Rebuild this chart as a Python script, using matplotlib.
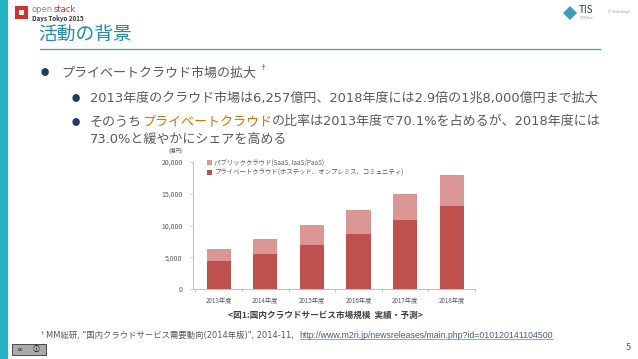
import matplotlib
matplotlib.use("Agg")
import matplotlib.pyplot as plt
from matplotlib.patches import Rectangle, Polygon, Patch

plt.rcParams['font.family'] = ['Noto Sans CJK JP', 'DejaVu Sans']
BODY_FAM = ['DejaVu Sans', 'Noto Sans CJK JP']

# ---- data ----
years = ['2013年度', '2014年度', '2015年度', '2016年度', '2017年度', '2018年度']
private_cloud = [4386, 5580, 7000, 8720, 10820, 13140]
public_cloud = [1871, 2360, 3030, 3680, 4140, 4860]
y_ticks = [0, 5000, 10000, 15000, 20000]
y_tick_labels = ['0', '5,000', '10,000', '15,000', '20,000']
legend_labels = ['パブリッククラウド(SaaS, IaaS/PaaS)',
                 'プライベートクラウド(ホステッド、オンプレミス、コミュニティ)']

W, H = 638, 359
fig = plt.figure(figsize=(W / 100, H / 100), dpi=100)
fig.patch.set_facecolor('white')
renderer = fig.canvas.get_renderer()

def ft(x, y, s, **kw):
    return fig.text(x / W, 1 - y / H, s, **kw)

def chain(x, y, segs, **kw):
    for s, c in segs:
        t = ft(x, y, s, color=c, va='center', ha='left', **kw)
        x += t.get_window_extent(renderer).width
    return x

TEXT = '#595959'
TEAL = '#22b3c3'
BUL = '#1f3b6b'

# left teal bar
fig.patches.append(Rectangle((0, 0), 8 / W, 1, transform=fig.transFigure,
                             facecolor=TEAL, edgecolor='none'))
# openstack logo
fig.patches.append(Rectangle((15 / W, 1 - 19 / H), 13 / W, 13 / H, transform=fig.transFigure,
                             facecolor='#d0322d', edgecolor='none'))
fig.patches.append(Rectangle((19 / W, 1 - 15 / H), 5 / W, 5 / H, transform=fig.transFigure,
                             facecolor='white', edgecolor='none'))
chain(32, 9, [('open', '#888888'), ('stack', '#d0322d')], fontsize=6, family=['DejaVu Sans'])
ft(32, 18, 'Days Tokyo 2015', fontsize=4.5, color='#333333', va='center', ha='left',
   fontweight='bold')

# TIS logo
fig.patches.append(Polygon([(563 / W, 1 - 13 / H), (570 / W, 1 - 6 / H), (577 / W, 1 - 13 / H),
                            (570 / W, 1 - 20 / H)], closed=True, transform=fig.transFigure,
                           facecolor='#3a9fb5', edgecolor='none'))
ft(579, 10, 'TIS', fontsize=7, color='#333333', va='center', ha='left')
ft(580, 18, 'TIS Inc.', fontsize=3, color='#888888', va='center', ha='left')
ft(608, 12, 'IT Holdings', fontsize=3, color='#999999', va='center', ha='left')

# title
ft(38, 34, '活動の背景', fontsize=13.5, color='#1f8bb3', va='center', ha='left')
fig.add_artist(plt.Line2D([40 / W, 600 / W], [1 - 49 / H, 1 - 49 / H],
                          transform=fig.transFigure, color='#2ea3bd', lw=0.9))

# bullets
FS = 9.4
R1, R2, R3, R4 = 73, 98, 122, 139
ft(41, R1, '●', fontsize=6, color=BUL, va='center', ha='left')
x_end = chain(61, R1, [('プライベートクラウド市場の拡大', TEXT)], fontsize=FS, family=BODY_FAM)
ft(x_end + 3, R1 - 5, '†', fontsize=5.5, color=TEXT, va='center', ha='left')

ft(72, R2, '●', fontsize=6, color=BUL, va='center', ha='left')
chain(90, R2, [('2013年度のクラウド市場は6,257億円、2018年度には2.9倍の1兆8,000億円まで拡大', TEXT)],
      fontsize=FS, family=BODY_FAM)
ft(72, R3, '●', fontsize=6, color=BUL, va='center', ha='left')
chain(90, R3, [('そのうち', TEXT), ('プライベートクラウド', '#e46c0a'),
               ('の比率は2013年度で70.1%を占めるが、2018年度には', TEXT)],
      fontsize=FS, family=BODY_FAM)
chain(90, R4, [('73.0%と緩やかにシェアを高める', TEXT)], fontsize=FS, family=BODY_FAM)

# ---- chart ----
left, right, bottom, top = 193, 475, 289, 162
ax = fig.add_axes([left / W, 1 - bottom / H, (right - left) / W, (bottom - top) / H])
xs = list(range(len(years)))
c_priv = '#c0504d'
c_pub = '#d99694'
ax.bar(xs, private_cloud, width=0.52, color=c_priv, edgecolor='none')
ax.bar(xs, public_cloud, bottom=private_cloud, width=0.52, color=c_pub, edgecolor='none')
ax.set_xlim(-0.55, 5.5)
ax.set_ylim(0, 20000)
ax.set_yticks(y_ticks)
ax.set_yticklabels(y_tick_labels)
ax.set_xticks(xs)
ax.set_xticklabels(years)
ax.set_xticks([i + 0.5 for i in range(-1, 6)], minor=True)
ax.tick_params(axis='x', which='major', length=0, labelsize=4.5, colors=TEXT, pad=6)
ax.tick_params(axis='x', which='minor', length=2.5, color='#bfbfbf', width=0.6)
ax.tick_params(axis='y', length=2.5, color='#bfbfbf', width=0.6, labelsize=5, labelcolor=TEXT, pad=5)
for s in ['top', 'right']:
    ax.spines[s].set_visible(False)
for s in ['left', 'bottom']:
    ax.spines[s].set_color('#bfbfbf')
    ax.spines[s].set_linewidth(0.7)
ax.patch.set_alpha(0)

handles = [Patch(facecolor=c_pub, edgecolor='none'), Patch(facecolor=c_priv, edgecolor='none')]
ax.legend(handles, legend_labels, loc='upper left', bbox_to_anchor=(0.04, 1.045), frameon=False,
          fontsize=4.6, labelcolor=TEXT, handlelength=0.8, handleheight=0.8, handletextpad=0.3,
          labelspacing=0.35, borderaxespad=0)

ft(176, 151, '(億円)', fontsize=4, color=TEXT, va='center', ha='center')
ft(325, 315, '<図1:国内クラウドサービス市場規模  実績・予測>', fontsize=6.2, color='#404040',
   va='center', ha='center', fontweight='bold')

# footnote
ft(40, 333, '†', fontsize=4, color=TEXT, va='center', ha='left')
x2 = chain(46, 335, [('MM総研, "国内クラウドサービス需要動向(2014年版)", 2014-11, ', TEXT)],
           fontsize=6.0, family=BODY_FAM)
u = ft(x2 + 3, 335, 'http://www.m2ri.jp/newsreleases/main.php?id=010120141104500', fontsize=6.3,
       color='#3f5f8f', va='center', ha='left', family=['Liberation Sans'])
ub = u.get_window_extent(renderer)
fig.add_artist(plt.Line2D([ub.x0 / W, ub.x1 / W], [ub.y0 / H + 1.0 / H, ub.y0 / H + 1.0 / H],
                          transform=fig.transFigure, color='#3f5f8f', lw=0.4))

# CC badge
fig.patches.append(Rectangle((12 / W, 1 - 355 / H), 34 / W, 11 / H, transform=fig.transFigure,
                             facecolor='#aaaaaa', edgecolor='#333333', lw=0.6))
ft(18, 349.5, 'cc', fontsize=4, color='black', va='center', ha='left')
ft(33, 349.5, 'ⓘ', fontsize=5, color='black', va='center', ha='left')

ft(628, 347, '5', fontsize=6.5, color=TEXT, va='center', ha='center')

fig.savefig('out.png', dpi=100)
